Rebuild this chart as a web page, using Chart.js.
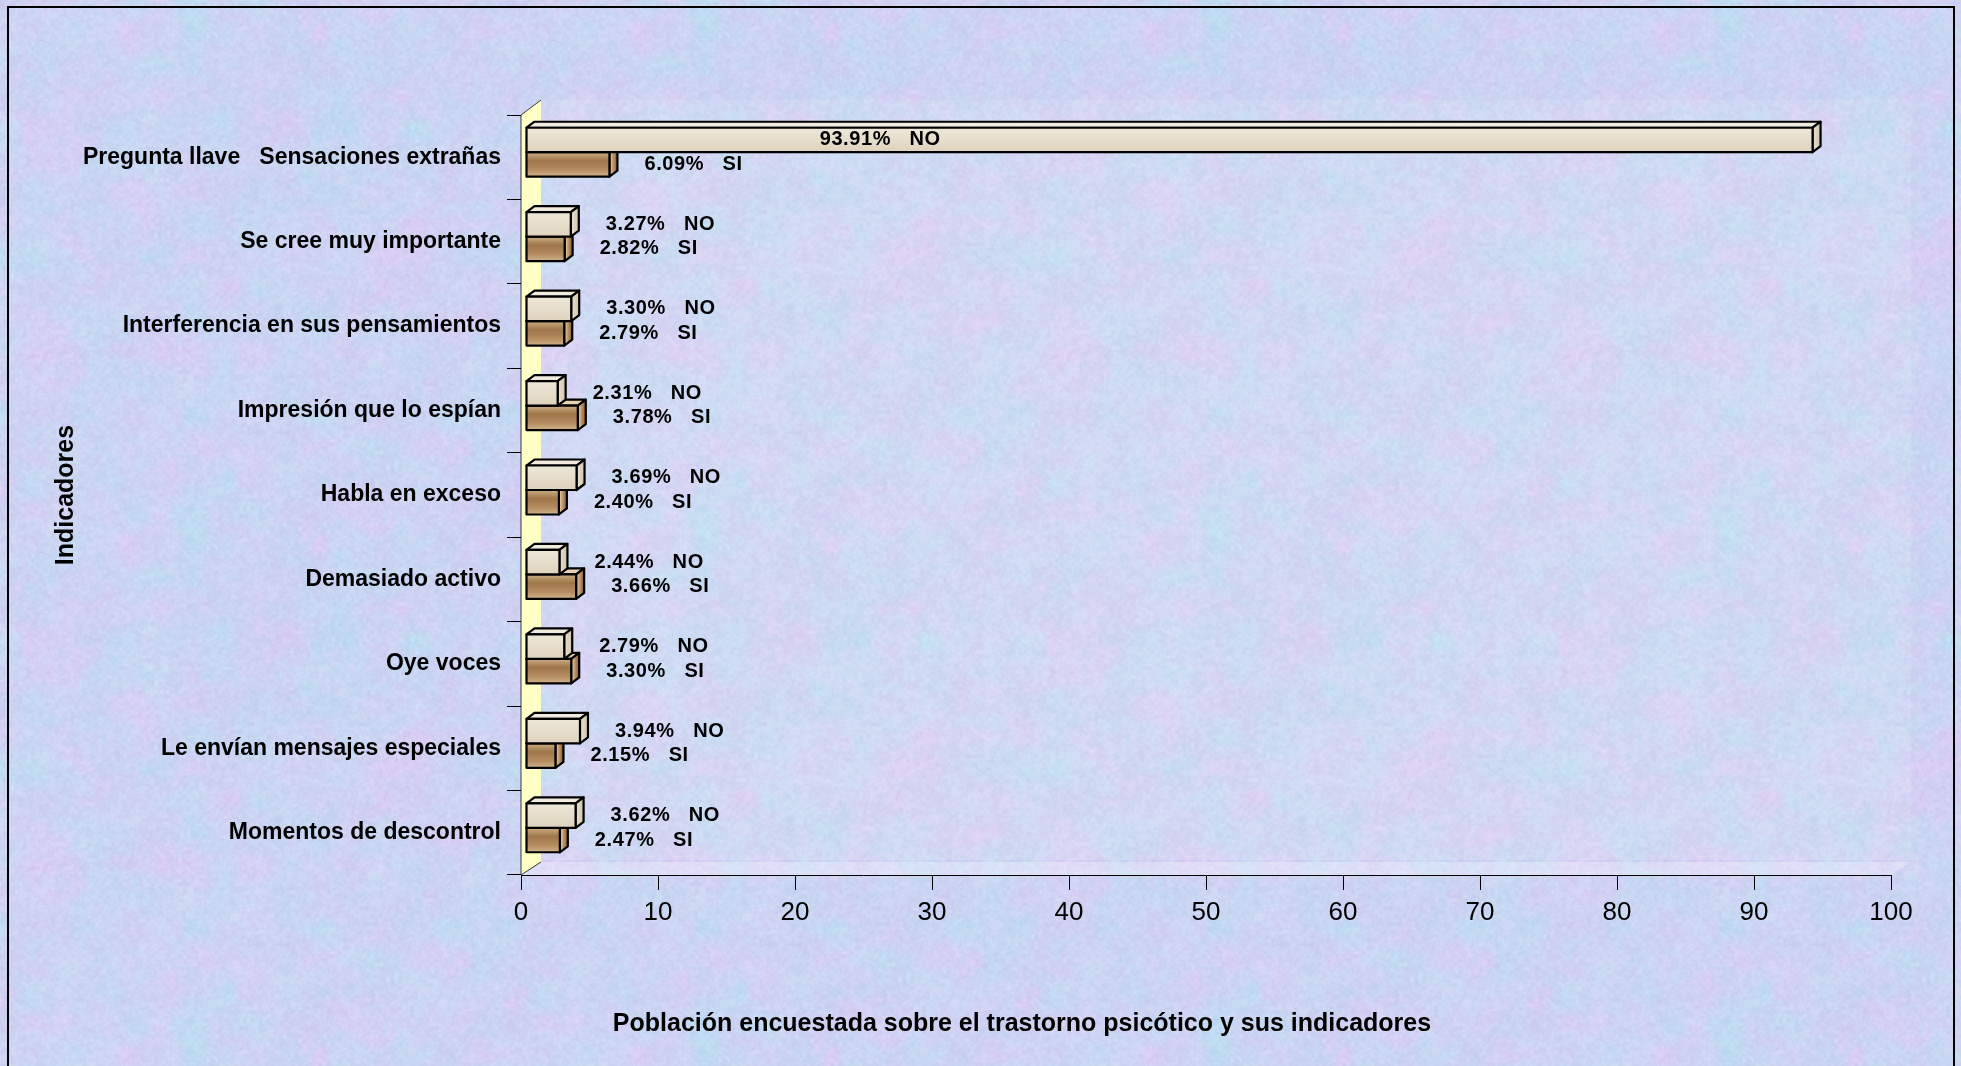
<!DOCTYPE html>
<html><head><meta charset="utf-8">
<script src="https://cdn.jsdelivr.net/npm/chart.js@4.4.0/dist/chart.umd.min.js"></script>
<style>html,body{margin:0;padding:0;background:#fff;overflow:hidden}canvas{display:block}</style>
</head><body>
<canvas id="c" width="1961" height="1066"></canvas>
<script>
// ---- DATA ----
const categories = [
  'Pregunta llave   Sensaciones extrañas',
  'Se cree muy importante',
  'Interferencia en sus pensamientos',
  'Impresión que lo espían',
  'Habla en exceso',
  'Demasiado activo',
  'Oye voces',
  'Le envían mensajes especiales',
  'Momentos de descontrol'
];
const seriesNames = ['NO', 'SI'];
const noValues = [93.91, 3.27, 3.30, 2.31, 3.69, 2.44, 2.79, 3.94, 3.62];
const siValues = [6.09, 2.82, 2.79, 3.78, 2.40, 3.66, 3.30, 2.15, 2.47];
const xMin = 0, xMax = 100, xStep = 10;
const xAxisTitle = 'Población encuestada sobre el trastorno psicótico y sus indicadores';
const yAxisTitle = 'Indicadores';

// ---- STYLE ----
const FONT = "'Liberation Sans', Arial, sans-serif";
const DEPTH_X = 8, DEPTH_Y = -6;     // bar depth
const SHIFT_X = 5, SHIFT_Y = -5;     // bars sit mid-depth
const WALL_X = 20, WALL_Y = -14;     // wall depth

function makeTexture(size) {
  const c = document.createElement('canvas');
  c.width = size; c.height = size;
  const g = c.getContext('2d');
  const img = g.createImageData(size, size);
  const d = img.data;
  function hash(x, y, p, s) {
    x = ((x % p) + p) % p; y = ((y % p) + p) % p;
    const v = Math.sin(x * 12.9898 + y * 78.233 + s * 37.719) * 43758.5453;
    return v - Math.floor(v);
  }
  function noise(x, y, cell, s) {
    const p = size / cell;
    const fx = x / cell, fy = y / cell;
    const xi = Math.floor(fx), yi = Math.floor(fy);
    const xf = fx - xi, yf = fy - yi;
    const u = xf * xf * (3 - 2 * xf), v = yf * yf * (3 - 2 * yf);
    const a = hash(xi, yi, p, s), b = hash(xi + 1, yi, p, s), c2 = hash(xi, yi + 1, p, s), e = hash(xi + 1, yi + 1, p, s);
    return a + (b - a) * u + (c2 - a) * v + (a - b - c2 + e) * u * v;
  }
  for (let y = 0; y < size; y++) {
    for (let x = 0; x < size; x++) {
      const pink = noise(x, y, 32, 1) * 0.5 + noise(x, y, 16, 4) * 0.3 + noise(x, y, 8, 7) * 0.2;
      const cyan = noise(x, y, 32, 2) * 0.5 + noise(x, y, 16, 5) * 0.3 + noise(x, y, 8, 8) * 0.2;
      const grain = noise(x, y, 4, 3) * 0.5 + noise(x, y, 2, 6) * 0.5;
      let r = 204 + 26 * (pink - 0.5) - 20 * (cyan - 0.5);
      let gg = 212 - 8 * (pink - 0.5) + 18 * (cyan - 0.5);
      let b = 242 + 4 * (pink - 0.5);
      const gr = 18 * (grain - 0.5);
      const i = (y * size + x) * 4;
      d[i] = Math.max(0, Math.min(255, r + gr));
      d[i + 1] = Math.max(0, Math.min(255, gg + gr));
      d[i + 2] = Math.max(0, Math.min(255, b + gr * 0.5));
      d[i + 3] = 255;
    }
  }
  g.putImageData(img, 0, 0);
  return c;
}
const texture = makeTexture(512);

const backgroundPlugin = {
  id: 'bg',
  beforeDraw(chart) {
    const ctx = chart.ctx;
    const { left: L, right: R, top: T, bottom: B } = chart.chartArea;
    ctx.save();
    ctx.fillStyle = ctx.createPattern(texture, 'repeat');
    ctx.fillRect(0, 0, chart.width, chart.height);
    // back wall
    ctx.fillStyle = 'rgba(255,255,255,0.10)';
    ctx.fillRect(L + WALL_X, T + WALL_Y - 1, R - L, B - T);
    // floor
    ctx.fillStyle = 'rgba(255,255,255,0.28)';
    ctx.beginPath();
    ctx.moveTo(L, B); ctx.lineTo(L + WALL_X, B + WALL_Y + 1);
    ctx.lineTo(R + WALL_X, B + WALL_Y + 1); ctx.lineTo(R, B); ctx.closePath(); ctx.fill();
    // yellow side wall
    ctx.fillStyle = '#FFFFC6';
    ctx.beginPath();
    ctx.moveTo(L, T); ctx.lineTo(L + WALL_X, T + WALL_Y - 1);
    ctx.lineTo(L + WALL_X, B + WALL_Y + 1); ctx.lineTo(L, B); ctx.closePath(); ctx.fill();
    ctx.strokeStyle = '#3a3a3a'; ctx.lineWidth = 1;
    ctx.beginPath();
    ctx.moveTo(L + WALL_X, B + WALL_Y + 1); ctx.lineTo(L, B); ctx.lineTo(L, T); ctx.lineTo(L + WALL_X, T + WALL_Y - 1);
    ctx.stroke();
    // frame
    ctx.strokeStyle = '#000'; ctx.lineWidth = 2;
    ctx.strokeRect(8, 7, 1946, 1070);
    ctx.restore();
  }
};

function box(ctx, x0, x1, y0, y1, front, top, side) {
  const dx = DEPTH_X, dy = DEPTH_Y;
  ctx.lineWidth = 2.2; ctx.strokeStyle = '#000'; ctx.lineJoin = 'round';
  ctx.beginPath();
  ctx.moveTo(x0, y0); ctx.lineTo(x0 + dx, y0 + dy); ctx.lineTo(x1 + dx, y0 + dy); ctx.lineTo(x1, y0); ctx.closePath();
  ctx.fillStyle = top; ctx.fill(); ctx.stroke();
  ctx.beginPath();
  ctx.moveTo(x1, y0); ctx.lineTo(x1 + dx, y0 + dy); ctx.lineTo(x1 + dx, y1 + dy); ctx.lineTo(x1, y1); ctx.closePath();
  ctx.fillStyle = side; ctx.fill(); ctx.stroke();
  ctx.beginPath(); ctx.rect(x0, y0, x1 - x0, y1 - y0);
  ctx.fillStyle = front; ctx.fill(); ctx.stroke();
}

const bars3dPlugin = {
  id: 'bars3d',
  afterDatasetsDraw(chart) {
    const ctx = chart.ctx;
    ctx.save();
    for (let di = chart.data.datasets.length - 1; di >= 0; di--) {
      const meta = chart.getDatasetMeta(di);
      meta.data.forEach((el) => {
        const p = el.getProps(['x', 'y', 'base', 'height'], true);
        const x0 = p.base + SHIFT_X, x1 = p.x + SHIFT_X;
        const y0 = p.y - p.height / 2 + SHIFT_Y, y1 = p.y + p.height / 2 + SHIFT_Y;
        let front, top, side;
        if (di === 0) {
          front = ctx.createLinearGradient(0, y0, 0, y1);
          front.addColorStop(0, '#EEE7D8'); front.addColorStop(0.5, '#E6DDCB'); front.addColorStop(1, '#DDD2BD');
          top = '#F1EBDF';
          side = ctx.createLinearGradient(x1, 0, x1 + DEPTH_X, 0);
          side.addColorStop(0, '#E9E1D0'); side.addColorStop(1, '#CFC3AC');
        } else {
          front = ctx.createLinearGradient(0, y0, 0, y1);
          front.addColorStop(0, '#CDAE86'); front.addColorStop(0.35, '#9E7649');
          front.addColorStop(0.7, '#B48B5E'); front.addColorStop(1, '#D0B28B');
          top = '#E7D3B1';
          side = ctx.createLinearGradient(x1, 0, x1 + DEPTH_X, 0);
          side.addColorStop(0, '#EAD6B4'); side.addColorStop(0.6, '#B08457'); side.addColorStop(1, '#7E5A33');
        }
        box(ctx, x0, x1, y0, y1, front, top, side);
      });
    }
    ctx.restore();
  }
};

const labelsPlugin = {
  id: 'valueLabels',
  afterDraw(chart) {
    const ctx = chart.ctx;
    const area = chart.chartArea;
    const xs = chart.scales.x;
    ctx.save();
    ctx.fillStyle = '#000';
    ctx.font = 'bold 20px ' + FONT;
    ctx.letterSpacing = '0.6px';
    ctx.textBaseline = 'middle';
    ctx.textAlign = 'left';
    chart.data.datasets.forEach((ds, di) => {
      const meta = chart.getDatasetMeta(di);
      meta.data.forEach((el, i) => {
        const p = el.getProps(['x', 'y'], true);
        const txt = ds.data[i].toFixed(2) + '%   ' + seriesNames[di];
        const w = ctx.measureText(txt).width;
        let tx = p.x + SHIFT_X + DEPTH_X + 27;
        if (tx + w > area.right) tx = xs.getPixelForValue(21.8);
        ctx.fillText(txt, tx, p.y + SHIFT_Y);
      });
    });
    ctx.letterSpacing = '0px';
    ctx.font = 'bold 25px ' + FONT;
    ctx.textAlign = 'center';
    ctx.textBaseline = 'alphabetic';
    ctx.fillText(xAxisTitle, 1022, 1031);
    ctx.save();
    ctx.translate(73, (area.top + area.bottom) / 2);
    ctx.rotate(-Math.PI / 2);
    ctx.fillText(yAxisTitle, 0, 0);
    ctx.restore();
    ctx.restore();
  }
};

const clear = 'rgba(0,0,0,0)';
new Chart(document.getElementById('c').getContext('2d'), {
  type: 'bar',
  data: {
    labels: categories,
    datasets: [
      { label: seriesNames[0], data: noValues, backgroundColor: clear, borderColor: clear, borderWidth: 0 },
      { label: seriesNames[1], data: siValues, backgroundColor: clear, borderColor: clear, borderWidth: 0 }
    ]
  },
  options: {
    responsive: false,
    animation: false,
    devicePixelRatio: 1,
    indexAxis: 'y',
    layout: { padding: { top: 115, right: 70, bottom: 0, left: 0 } },
    datasets: { bar: { categoryPercentage: 0.58, barPercentage: 1 } },
    plugins: { legend: { display: false }, tooltip: { enabled: false }, colors: { enabled: false } },
    scales: {
      x: {
        min: xMin, max: xMax,
        ticks: { stepSize: xStep, color: '#000', font: { family: FONT, size: 26 }, padding: 7, maxRotation: 0 },
        grid: { drawOnChartArea: false, color: '#000', tickLength: 15, lineWidth: 1 },
        border: { color: '#000', width: 1 },
        afterFit: (s) => { s.height = 191; }
      },
      y: {
        ticks: { color: '#000', font: { family: FONT, size: 23, weight: 'bold' }, padding: 6, autoSkip: false },
        grid: { drawOnChartArea: false, color: '#000', tickLength: 14, offset: true, lineWidth: 1 },
        border: { display: false },
        afterFit: (s) => { s.width = 521; }
      }
    }
  },
  plugins: [backgroundPlugin, bars3dPlugin, labelsPlugin]
});
</script>
</body></html>
